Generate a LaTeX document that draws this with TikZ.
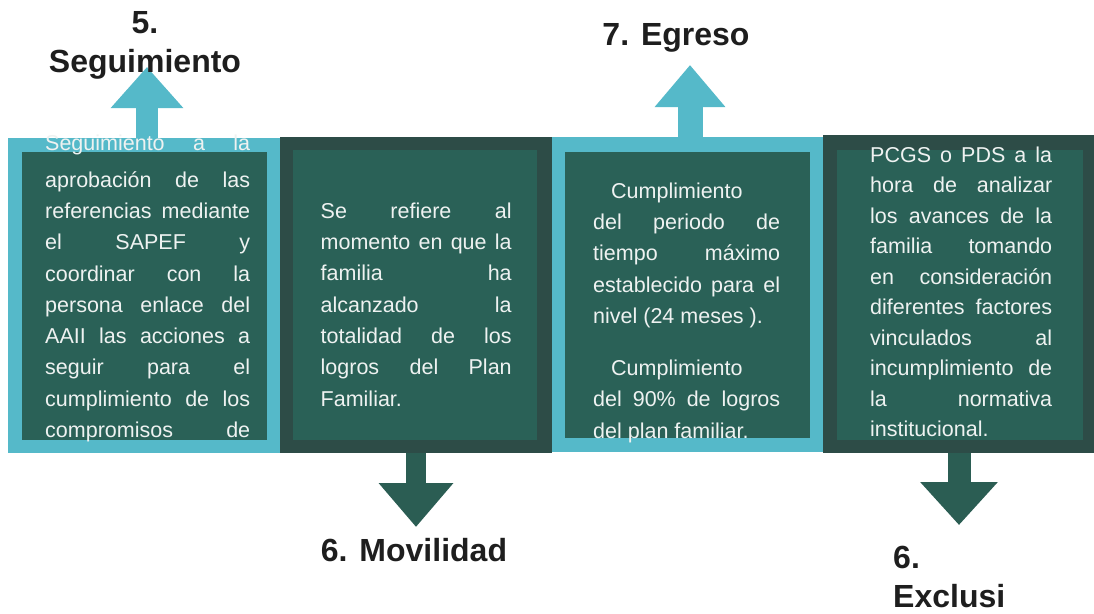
\documentclass[tikz,border=0pt]{standalone}
\usepackage{fontspec}
\setmainfont{Liberation Sans}
\usetikzlibrary{arrows.meta}
\definecolor{lblue}{HTML}{55B9C9}
\definecolor{dgreen}{HTML}{2A6157}
\definecolor{dframe}{HTML}{2D4C47}
\definecolor{darrow}{HTML}{2B5D53}
\definecolor{txtw}{HTML}{EEF2F1}
\definecolor{lbl}{HTML}{1E1E1E}
\newcommand{\jl}[2]{\makebox[#1][s]{#2}}
\begin{document}
\begin{tikzpicture}[x=1pt,y=-1pt,
  panel/.style={rectangle, inner sep=0pt, outer sep=0pt, anchor=north west},
  body/.style={anchor=north west, inner sep=0pt, align=left, text=txtw,
    font=\fontsize{21.5}{31.3}\selectfont},
  title/.style={inner sep=0pt, text=lbl, font=\bfseries\fontsize{32}{39}\selectfont},
  blockup/.style={line width=#1, lblue, line cap=butt},
  blockdown/.style={line width=#1, darrow, line cap=butt}
]
\useasboundingbox (0,0) rectangle (1094,613);
\fill[white] (0,0) rectangle (1094,613);

% arrow tips
\coordinate (t1) at (147,67);
\coordinate (t2) at (690,65);
\coordinate (t3) at (416,527);
\coordinate (t4) at (959,525);

% panels (outer frames)
\node[panel, minimum width=272pt, minimum height=315pt] (p1) at (8,138) {};
\node[panel, minimum width=272pt, minimum height=316pt] (p2) at (280,137) {};
\node[panel, minimum width=271pt, minimum height=315pt] (p3) at (552,137) {};
\node[panel, minimum width=271pt, minimum height=318pt] (p4) at (823,135) {};

% block arrows (drawn under the panels)
\draw[blockup=22pt, -{Triangle[length=41pt,width=70pt]}] (t1 |- p1.center) -- (t1);
\draw[blockup=25pt, -{Triangle[length=42pt,width=68pt]}] (t2 |- p3.center) -- (t2);
\draw[blockdown=20pt, -{Triangle[length=44pt,width=72pt]}] (t3 |- p2.center) -- (t3);
\draw[blockdown=23pt, -{Triangle[length=43pt,width=75pt]}] (t4 |- p4.center) -- (t4);

% panel fills
\fill[lblue] (p1.north west) rectangle (p1.south east);
\fill[dgreen] ([shift={(14,14)}]p1.north west) rectangle ([shift={(-13,-13)}]p1.south east);
\fill[dframe] (p2.north west) rectangle (p2.south east);
\fill[dgreen] ([shift={(13,13)}]p2.north west) rectangle ([shift={(-15,-13)}]p2.south east);
\fill[lblue] (p3.north west) rectangle (p3.south east);
\fill[dgreen] ([shift={(13,15)}]p3.north west) rectangle ([shift={(-13,-14)}]p3.south east);
\fill[dframe] (p4.north west) rectangle (p4.south east);
\fill[dgreen] ([shift={(14,15)}]p4.north west) rectangle ([shift={(-11,-13)}]p4.south east);

% body texts
\node[body] (b1) at (45,128.1) {\strut\jl{205pt}{Seguimiento a la}\\[5.6pt]
\jl{205pt}{aprobación de las}\\
\jl{205pt}{referencias mediante}\\
\jl{205pt}{el SAPEF y}\\
\jl{205pt}{coordinar con la}\\
\jl{205pt}{persona enlace del}\\
\jl{205pt}{AAII las acciones a}\\
\jl{205pt}{seguir para el}\\
\jl{205pt}{cumplimiento de los}\\
\jl{205pt}{compromisos de}};

\node[body] (b2) at (320.5,196.1) {\strut\jl{191pt}{Se refiere al}\\
\jl{191pt}{momento en que la}\\
\jl{191pt}{familia ha}\\
\jl{191pt}{alcanzado la}\\
\jl{191pt}{totalidad de los}\\
\jl{191pt}{logros del Plan}\\
Familiar.};

\node[body] (b3) at (593,176.1) {\strut\hspace*{18pt}Cumplimiento\\
\jl{187pt}{del periodo de}\\
\jl{187pt}{tiempo máximo}\\
\jl{187pt}{establecido para el}\\
nivel (24 meses ).\\[20.7pt]
\hspace*{18pt}Cumplimiento\\
\jl{187pt}{del 90\% de logros}\\
del plan familiar.};

\node[body, font=\fontsize{21.5}{30.5}\selectfont] (b4) at (870,140.65) {\strut\jl{182pt}{PCGS o PDS a la}\\
\jl{182pt}{hora de analizar}\\
\jl{182pt}{los avances de la}\\
\jl{182pt}{familia tomando}\\
\jl{182pt}{en consideración}\\
\jl{182pt}{diferentes factores}\\
\jl{182pt}{vinculados al}\\
\jl{182pt}{incumplimiento de}\\
\jl{182pt}{la normativa}\\
institucional.};

% titles
\node[title, anchor=north, align=center] (l5) at (145,5.7) {\strut 5.\\Seguimiento};
\node[title, anchor=base] (l7) at (676,45) {7. Egreso};
\node[title, anchor=base] (l6) at (414,561) {6. Movilidad};
\node[title, anchor=north west, align=left] (l6b) at (893,540.7) {\strut 6.\\Exclusi};
\end{tikzpicture}
\end{document}
